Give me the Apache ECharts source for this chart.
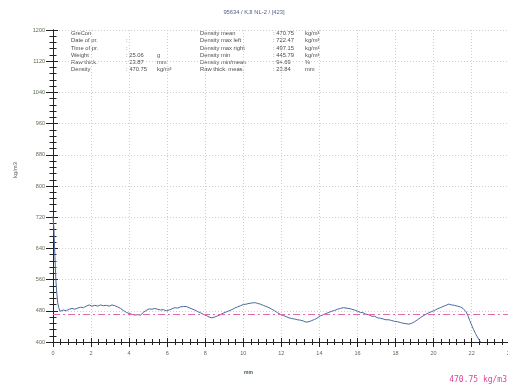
<!DOCTYPE html>
<html>
<head>
<meta charset="utf-8">
<script src="https://cdn.jsdelivr.net/npm/echarts@6/dist/echarts.min.js"></script>
<style>
  html, body { margin: 0; padding: 0; background: #fff; }
  #chart { width: 508px; height: 385px; }
</style>
</head>
<body>
<div id="chart"></div>
<script>
// Density profile across the board thickness
const chartTitle = '95634 / KJI NL-2 / [423]';

// thickness position (mm) and raw density (kg/m³)
const thickness = [
  0.00, 0.05, 0.10, 0.15, 0.20, 0.25, 0.30, 0.37, 0.45, 0.55, 0.70, 0.85, 1.00, 1.15, 1.30, 1.45,
  1.60, 1.75, 1.90, 2.05, 2.20, 2.35, 2.50, 2.65, 2.80, 2.95, 3.10, 3.25, 3.40, 3.55, 3.70, 3.85,
  4.00, 4.15, 4.30, 4.45, 4.60, 4.75, 4.90, 5.05, 5.20, 5.35, 5.50, 5.65, 5.80, 5.95, 6.10, 6.25,
  6.40, 6.55, 6.70, 6.85, 7.00, 7.15, 7.30, 7.45, 7.60, 7.75, 7.90, 8.05, 8.20, 8.35, 8.50, 8.65,
  8.80, 8.95, 9.10, 9.25, 9.40, 9.55, 9.70, 9.85, 10.00, 10.15, 10.30, 10.45, 10.60, 10.75, 10.90, 11.05,
  11.20, 11.35, 11.50, 11.65, 11.80, 11.95, 12.10, 12.25, 12.40, 12.55, 12.70, 12.85, 13.00, 13.15, 13.30, 13.45,
  13.60, 13.75, 13.90, 14.05, 14.20, 14.35, 14.50, 14.65, 14.80, 14.95, 15.10, 15.25, 15.40, 15.55, 15.70, 15.85,
  16.00, 16.15, 16.30, 16.45, 16.60, 16.75, 16.90, 17.05, 17.20, 17.35, 17.50, 17.65, 17.80, 17.95, 18.10, 18.25,
  18.40, 18.55, 18.70, 18.85, 19.00, 19.15, 19.30, 19.45, 19.60, 19.75, 19.90, 20.05, 20.20, 20.35, 20.50, 20.65,
  20.80, 20.95, 21.10, 21.25, 21.40, 21.55, 21.70, 21.80, 21.90, 22.00, 22.10, 22.20, 22.30, 22.40, 22.47
];
const density = [
  722.47, 690, 620, 560, 525, 500, 488, 479, 478, 482, 480, 484, 486, 484, 487, 489,
  488, 492, 495, 492, 494, 492, 495, 493, 494, 492, 495, 493, 490, 486, 481, 476,
  473, 471, 469, 470, 469, 476, 481, 485, 484, 486, 484, 482, 483, 480, 482, 485,
  488, 487, 490, 491, 491, 488, 485, 482, 478, 475, 471, 468, 464, 462, 464, 467,
  470, 474, 477, 480, 483, 487, 490, 493, 496, 497, 499, 500, 501, 499, 497, 494,
  491, 488, 484, 480, 475, 471, 468, 465, 462, 460, 459, 457, 456, 454, 451, 452,
  455, 458, 462, 467, 470, 473, 476, 479, 481, 484, 486, 488, 487, 486, 484, 482,
  479, 476, 475, 471, 470, 466, 466, 462, 461, 459, 457, 457, 455, 453, 452, 450,
  448, 447, 445.79, 448, 452, 457, 462, 467, 471, 475, 478, 481, 485, 488, 491, 494,
  497.15, 495, 494, 492, 490, 486, 478, 468, 455, 443, 432, 422, 413, 405, 400
];
const meanDensity = 470.75;

// header table
const infoLabelsLeft  = ['GreCon', 'Date of pr.', 'Time of pr.', 'Weight', 'Raw thick.', 'Density'];
const infoValuesLeft  = ['', ':', ':', ': 25.06', ': 23.87', ': 470.75'];
const infoUnitsLeft   = ['', '', '', 'g', 'mm', 'kg/m³'];
const infoLabelsRight = ['Density mean', 'Density max left', 'Density max right', 'Density min', 'Density min/mean', 'Raw thick. meas.'];
const infoValuesRight = [': 470.75', ': 722.47', ': 497.15', ': 445.79', ': 94.69', ': 23.84'];
const infoUnitsRight  = ['kg/m³', 'kg/m³', 'kg/m³', 'kg/m³', '%', 'mm'];

const yMin = 400, yMax = 1200, yStep = 80;
const xMin = 0, xMax = 24, xStep = 2;

const chart = echarts.init(document.getElementById('chart'), null, { renderer: 'canvas' });

const textColor = '#4d4d4d';
const labelColor = '#5d6d55';
const axisColor = '#222';
const gridCss = { color: '#cfcfcf', type: [1, 2], width: 1 };

const infoGraphics = [];
const rowTop = 30.5, rowGap = 7.25;
function addColumn(texts, x) {
  texts.forEach((t, i) => {
    if (!t) return;
    infoGraphics.push({
      type: 'text', left: x, top: rowTop + i * rowGap, silent: true,
      style: { text: t, fill: textColor, font: '5.8px "Liberation Sans", Arial, sans-serif' }
    });
  });
}
addColumn(infoLabelsLeft, 71);
addColumn(infoValuesLeft, 126);
addColumn(infoUnitsLeft, 157);
addColumn(infoLabelsRight, 200);
addColumn(infoValuesRight, 273);
addColumn(infoUnitsRight, 305);

const commonX = {
  type: 'value', min: xMin, max: xMax, interval: xStep, position: 'bottom',
  axisLine: { show: true, onZero: false, lineStyle: { color: axisColor, width: 1 } }
};
const commonY = {
  type: 'value', min: yMin, max: yMax, interval: yStep, position: 'left',
  axisLine: { show: true, onZero: false, lineStyle: { color: axisColor, width: 1 } }
};

chart.setOption({
  animation: false,
  backgroundColor: '#fff',
  title: {
    text: chartTitle, left: 'center', top: 4,
    textStyle: { fontSize: 5.8, fontWeight: 'normal', color: '#4f5f86', fontFamily: 'Liberation Sans, Arial, sans-serif' }
  },
  grid: { left: 53, top: 30, width: 456.7, height: 312, containLabel: false, outerBoundsMode: 'none' },
  xAxis: [
    Object.assign({}, commonX, {
      axisTick: { show: true, inside: false, length: 5, lineStyle: { color: axisColor } },
      minorTick: { show: true, splitNumber: 5, length: 3, lineStyle: { color: axisColor } },
      splitLine: { show: true, lineStyle: gridCss },
      axisLabel: { show: true, margin: 8, fontSize: 5.5, color: labelColor, fontFamily: 'Liberation Sans, Arial, sans-serif', showMaxLabel: true, hideOverlap: false }
    }),
    Object.assign({}, commonX, {
      axisTick: { show: true, inside: true, length: 4, lineStyle: { color: axisColor } },
      minorTick: { show: true, splitNumber: 5, length: 3, lineStyle: { color: axisColor } },
      splitLine: { show: false },
      axisLabel: { show: false }
    })
  ],
  yAxis: [
    Object.assign({}, commonY, {
      axisTick: { show: true, inside: false, length: 7, lineStyle: { color: axisColor } },
      minorTick: { show: true, splitNumber: 5, length: 3.5, lineStyle: { color: axisColor } },
      splitLine: { show: true, lineStyle: gridCss },
      axisLabel: { show: true, margin: 8, fontSize: 5.5, color: labelColor, fontFamily: 'Liberation Sans, Arial, sans-serif', formatter: v => String(v) }
    }),
    Object.assign({}, commonY, {
      axisTick: { show: true, inside: true, length: 5, lineStyle: { color: axisColor } },
      minorTick: { show: true, splitNumber: 5, length: 3.5, lineStyle: { color: axisColor } },
      splitLine: { show: false },
      axisLabel: { show: false }
    })
  ],
  series: [{
    type: 'line',
    xAxisIndex: 0, yAxisIndex: 0,
    data: thickness.map((t, i) => [t, density[i]]),
    showSymbol: false,
    lineStyle: { color: '#4a6aa0', width: 1 },
    silent: true,
    markLine: {
      silent: true, symbol: 'none',
      label: { show: false },
      lineStyle: { color: '#e36aa8', width: 1, type: [7, 3, 2, 3] },
      data: [{ yAxis: meanDensity }]
    }
  }],
  graphic: infoGraphics.concat([
    {
      type: 'text', x: 15, y: 170, rotation: Math.PI / 2, silent: true,
      style: { text: 'kg/m3', fill: '#555', font: '5.8px "Liberation Sans", Arial, sans-serif', align: 'center', verticalAlign: 'middle' }
    },
    {
      type: 'text', left: 244, top: 370, silent: true,
      style: { text: 'mm', fill: '#3c5560', font: 'bold 5px "Liberation Sans", Arial, sans-serif' }
    },
    {
      type: 'text', right: 1, top: 376, silent: true,
      style: { text: meanDensity.toFixed(2) + ' kg/m3', fill: '#e0449a', font: '8px "DejaVu Sans Mono", monospace' }
    }
  ])
});
</script>
</body>
</html>
